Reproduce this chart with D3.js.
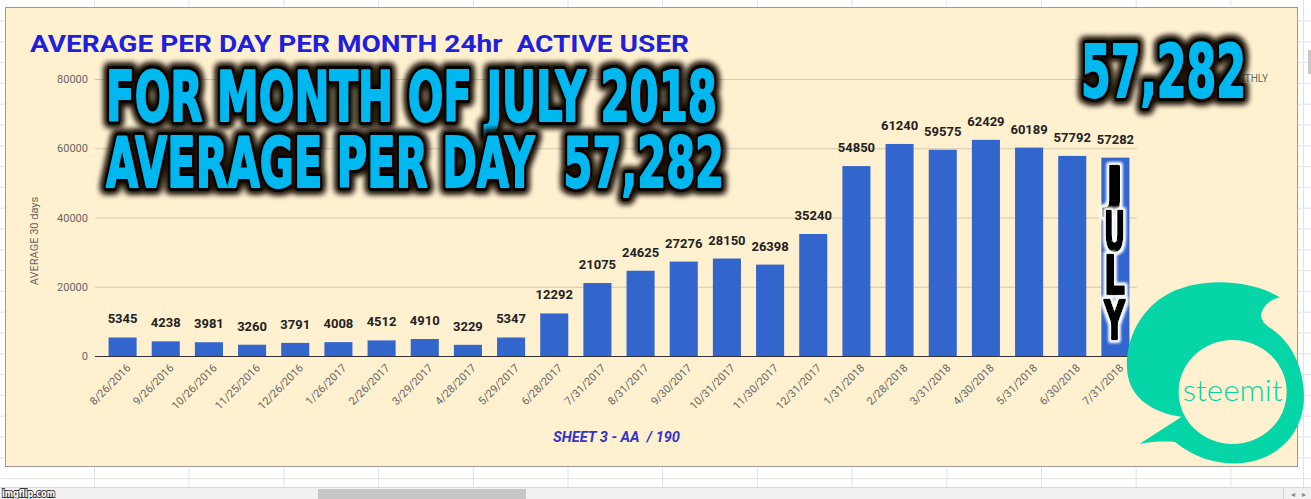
<!DOCTYPE html>
<html>
<head>
<meta charset="utf-8">
<script src="https://cdn.jsdelivr.net/npm/d3@7"></script>
<style>
  html, body { margin: 0; padding: 0; background: #fff; }
  svg { display: block; }
  text { white-space: pre; }
</style>
</head>
<body>
<svg id="chart" width="1311" height="499"></svg>
<script>
// data
var categories = ["8/26/2016","9/26/2016","10/26/2016","11/25/2016","12/26/2016","1/26/2017",
  "2/26/2017","3/29/2017","4/28/2017","5/29/2017","6/28/2017","7/31/2017","8/31/2017",
  "9/30/2017","10/31/2017","11/30/2017","12/31/2017","1/31/2018","2/28/2018","3/31/2018",
  "4/30/2018","5/31/2018","6/30/2018","7/31/2018"];
var values = [5345,4238,3981,3260,3791,4008,4512,4910,3229,5347,12292,21075,24625,
  27276,28150,26398,35240,54850,61240,59575,62429,60189,57792,57282];
var yTicks = [0,20000,40000,60000,80000];
var title = "AVERAGE PER DAY PER MONTH 24hr  ACTIVE USER";
var axisTitle = "AVERAGE 30 days";
var legendLabel = "AVERAGE MONTHLY";
var footer = "SHEET 3 - AA  / 190";
var bigLines = ["FOR MONTH OF JULY 2018", "AVERAGE PER DAY  57,282"];
var bigNumber = "57,282";
var monthLetters = ["J","U","L","Y"];

var W = 1311, H = 499;
var barColor = "#3366cc";
var panelFill = "#fff1cf";
var cyan = "#00b8f0";
var green = "#06d5a8";
var heavy = "DejaVu Sans Condensed, Liberation Sans Narrow";

var svg = d3.select("#chart");
var defs = svg.append("defs");

// black halo for the big cyan text
var glow = defs.append("filter").attr("id","halo")
  .attr("x","-10%").attr("y","-30%").attr("width","120%").attr("height","160%");
glow.append("feMorphology").attr("in","SourceAlpha").attr("operator","dilate").attr("radius",2).attr("result","d");
glow.append("feGaussianBlur").attr("in","d").attr("stdDeviation",3).attr("result","b");
glow.append("feFlood").attr("flood-color","#1a0e00").attr("result","f");
glow.append("feComposite").attr("in","f").attr("in2","b").attr("operator","in").attr("result","s");
var gm = glow.append("feMerge");
gm.append("feMergeNode").attr("in","s");
gm.append("feMergeNode").attr("in","s");
gm.append("feMergeNode").attr("in","SourceGraphic");

// white halo for the JULY letters
var wglow = defs.append("filter").attr("id","whalo")
  .attr("x","-50%").attr("y","-30%").attr("width","200%").attr("height","160%");
wglow.append("feMorphology").attr("in","SourceAlpha").attr("operator","dilate").attr("radius",1.5).attr("result","d");
wglow.append("feGaussianBlur").attr("in","d").attr("stdDeviation",1.5).attr("result","b");
wglow.append("feFlood").attr("flood-color","#ffffff").attr("result","f");
wglow.append("feComposite").attr("in","f").attr("in2","b").attr("operator","in").attr("result","s");
var wm = wglow.append("feMerge");
wm.append("feMergeNode").attr("in","s");
wm.append("feMergeNode").attr("in","s");
wm.append("feMergeNode").attr("in","SourceGraphic");

// spreadsheet behind the chart
var sheet = svg.append("g");
sheet.append("rect").attr("width",W).attr("height",H).attr("fill","#fff");
d3.range(21, 486, 20.8).forEach(function(y){
  sheet.append("line").attr("x1",0).attr("x2",W).attr("y1",y).attr("y2",y)
    .attr("stroke","#e2e2e2");
});
d3.range(94.5, W, 94.7).forEach(function(x){
  sheet.append("line").attr("x1",x).attr("x2",x).attr("y1",0).attr("y2",487)
    .attr("stroke","#e2e2e2");
});
sheet.append("line").attr("x1",1303.5).attr("x2",1303.5).attr("y1",0).attr("y2",487).attr("stroke","#e2e2e2");
sheet.append("rect").attr("x",1308).attr("y",50).attr("width",3).attr("height",24).attr("fill","#c8c8c8");
// bottom scrollbar strip
sheet.append("rect").attr("x",0).attr("y",487).attr("width",W).attr("height",12).attr("fill","#f1f1f1");
sheet.append("line").attr("x1",0).attr("x2",W).attr("y1",487.5).attr("y2",487.5).attr("stroke","#dadada");
sheet.append("rect").attr("x",318).attr("y",489).attr("width",208).attr("height",10).attr("fill","#c6c6c6");
sheet.append("line").attr("x1",1283.5).attr("x2",1283.5).attr("y1",488).attr("y2",499).attr("stroke","#d0d0d0");
sheet.append("text").attr("x",1291).attr("y",497).attr("font-size",8).attr("fill","#888")
  .attr("font-family","DejaVu Sans").text("\u25C2");
sheet.append("text").attr("x",1302).attr("y",497).attr("font-size",8).attr("fill","#888")
  .attr("font-family","DejaVu Sans").text("\u25B8");

// chart panel
svg.append("rect").attr("x",5.5).attr("y",7.5).attr("width",1292).attr("height",459)
  .attr("fill",panelFill).attr("stroke","#9a9a9a");

var x = d3.scaleBand().domain(categories).range([101,1137]).paddingInner(0.35).paddingOuter(0.175);
var y = d3.scaleLinear().domain([0,80000]).range([356,79]);

// gridlines + y labels
var yAxis = d3.axisLeft(y).tickValues(yTicks).tickSize(-(1137-95)).tickPadding(7).tickFormat(d3.format("d"));
var ya = svg.append("g").attr("transform","translate(95,0)").call(yAxis);
ya.select(".domain").remove();
ya.selectAll(".tick line").attr("stroke","#d3c9ae");
ya.selectAll(".tick text").attr("fill","#666").attr("font-size",11).attr("font-family","Roboto");

svg.append("text").attr("transform","translate(38,241) rotate(-90)")
  .attr("text-anchor","middle").attr("font-family","Roboto").attr("font-size",11)
  .attr("fill","#666").text(axisTitle);

// legend text (mostly hidden under the overlay number)
svg.append("text").attr("x",1268).attr("y",82).attr("text-anchor","end")
  .attr("font-family","Roboto").attr("font-size",10).attr("fill","#666").text(legendLabel);

// bars
svg.append("g").selectAll("rect").data(values).enter().append("rect")
  .attr("x",function(d,i){ return x(categories[i]); })
  .attr("y",function(d){ return y(d); })
  .attr("width",x.bandwidth())
  .attr("height",function(d){ return y(0) - y(d); })
  .attr("fill",barColor);

// baseline
svg.append("line").attr("x1",95).attr("x2",1137).attr("y1",y(0)+0.5).attr("y2",y(0)+0.5)
  .attr("stroke","#333");

// value labels
svg.append("g").selectAll("text").data(values).enter().append("text")
  .attr("x",function(d,i){ return x(categories[i]) + x.bandwidth()/2; })
  .attr("y",function(d){ return y(d) - 14; })
  .attr("text-anchor","middle").attr("font-family","Roboto").attr("font-weight","bold")
  .attr("font-size",13).attr("fill","#222")
  .text(function(d){ return d; });

// x labels, rotated
var xa = svg.append("g").attr("transform","translate(0,356)")
  .call(d3.axisBottom(x).tickSize(0).tickPadding(0));
xa.select(".domain").remove();
xa.selectAll(".tick text")
  .attr("font-family","Roboto").attr("font-size",11).attr("fill","#666")
  .attr("text-anchor","end").attr("dy","0.35em")
  .attr("transform","translate(6,10) rotate(-45)");

// title and footer
svg.append("text").attr("x",30).attr("y",52).attr("font-family","Roboto").attr("font-weight","bold")
  .attr("font-size",24).attr("fill","#1f1fde").attr("textLength",659).attr("lengthAdjust","spacingAndGlyphs")
  .text(title);
svg.append("text").attr("x",553).attr("y",442).attr("font-family","Liberation Sans Narrow, Roboto")
  .attr("font-weight","bold").attr("font-style","italic").attr("font-size",15).attr("fill","#3434c8")
  .attr("textLength",127).attr("lengthAdjust","spacingAndGlyphs").text(footer);

// steemit logo
var logo = svg.append("g").attr("transform","translate(1120,270) scale(0.3333)");
logo.append("path").attr("fill",green)
  .attr("d","M480,82 C380,22 220,22 130,80 C35,140 5,260 28,335 C50,400 120,432 185,440 " +
    "L58,522 C100,514 135,514 165,516 C230,568 300,584 360,580 C475,572 552,485 552,380 " +
    "C552,282 505,205 445,170 C426,158 420,140 426,124 C436,100 456,88 480,82 Z");
logo.append("ellipse").attr("cx",338).attr("cy",366).attr("rx",162).attr("ry",156).attr("fill",panelFill);
logo.append("text").attr("x",338).attr("y",392).attr("text-anchor","middle")
  .attr("font-family","Lato").attr("font-weight",300).attr("font-size",90).attr("fill",green)
  .attr("textLength",300).attr("lengthAdjust","spacingAndGlyphs").text("steemit");

// JULY letters over the last bar
var lastX = x(categories[categories.length-1]) + x.bandwidth()/2;
svg.append("g").selectAll("text").data(monthLetters).enter().append("text")
  .attr("x",lastX - 1).attr("y",function(d,i){ return 205 + i*44.5; })
  .attr("text-anchor","middle").attr("font-family",heavy)
  .attr("font-weight","bold").attr("font-size",54).attr("fill","#000")
  .attr("stroke","#000").attr("stroke-width",2.5).attr("stroke-linejoin","round")
  .attr("textLength",function(d){ return d === "J" ? 17 : 21; }).attr("lengthAdjust","spacingAndGlyphs")
  .attr("filter","url(#whalo)").text(function(d){ return d; });

// big cyan overlay text: dark outlined layer, then an emboldened cyan layer
function bigText(str, x0, base, width, size) {
  var g = svg.append("g");
  g.append("text").attr("x",x0).attr("y",base)
    .attr("font-family",heavy).attr("font-weight","bold")
    .attr("font-size",size).attr("fill","#000").attr("stroke","#000").attr("stroke-width",8)
    .attr("stroke-linejoin","round")
    .attr("textLength",width).attr("lengthAdjust","spacingAndGlyphs")
    .attr("filter","url(#halo)").text(str);
  g.append("text").attr("x",x0).attr("y",base)
    .attr("font-family",heavy).attr("font-weight","bold")
    .attr("font-size",size).attr("fill",cyan).attr("stroke",cyan).attr("stroke-width",2)
    .attr("stroke-linejoin","round")
    .attr("textLength",width).attr("lengthAdjust","spacingAndGlyphs").text(str);
  return g;
}
bigText(bigLines[0], 106, 121, 611, 70);
bigText(bigLines[1], 106, 187, 618, 70);
bigText(bigNumber, 1081, 97, 165, 73);

// watermark
svg.append("text").attr("x",2).attr("y",497).attr("font-family","DejaVu Sans").attr("font-weight","bold")
  .attr("font-size",11).attr("fill","#fff").attr("stroke","#333").attr("stroke-width",2)
  .attr("paint-order","stroke").attr("textLength",53).attr("lengthAdjust","spacingAndGlyphs")
  .text("imgflip.com");
</script>
</body>
</html>
